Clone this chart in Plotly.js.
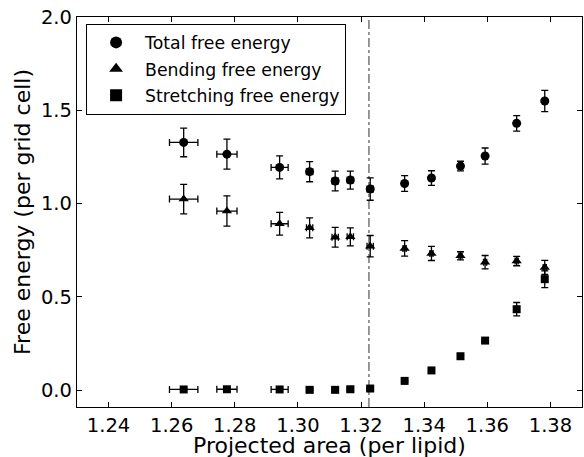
<!DOCTYPE html>
<html><head><meta charset="utf-8">
<script src="https://cdn.plot.ly/plotly-3.0.1.min.js"></script>
<style>body{margin:0;padding:0;background:#fff}#chart{width:584px;height:457px}</style>
</head><body><div id="chart"></div>
<script>
const area = [1.2638, 1.2775, 1.2942, 1.3037, 1.3118, 1.3166, 1.3229, 1.3338, 1.3423, 1.3515, 1.3593, 1.3693, 1.3782];
const areaErr = [0.0045, 0.0032, 0.0027, 0.001, 0.001, 0.001, 0.001, 0.0005, 0.0005, 0.0005, 0.0005, 0.0005, 0.0005];
const totalFE = [1.328, 1.265, 1.194, 1.171, 1.121, 1.126, 1.078, 1.108, 1.137, 1.201, 1.255, 1.430, 1.550];
const totalErr = [0.077, 0.080, 0.062, 0.054, 0.053, 0.048, 0.060, 0.042, 0.039, 0.026, 0.043, 0.042, 0.057];
const bendFE = [1.024, 0.960, 0.892, 0.870, 0.820, 0.822, 0.772, 0.760, 0.733, 0.720, 0.686, 0.692, 0.658];
const bendErr = [0.079, 0.081, 0.061, 0.054, 0.053, 0.048, 0.057, 0.042, 0.038, 0.022, 0.036, 0.025, 0.038];
const stretchFE = [0.004, 0.005, 0.004, 0.002, 0.002, 0.005, 0.009, 0.050, 0.106, 0.182, 0.266, 0.434, 0.595];
const stretchErr = [0.004, 0.004, 0.004, 0.004, 0.004, 0.004, 0.004, 0.004, 0.005, 0.006, 0.008, 0.036, 0.045];
const vlineX = 1.3225;
const seriesNames = ['Total free energy', 'Bending free energy', 'Stretching free energy'];
const xTitle = 'Projected area (per lipid)';
const yTitle = 'Free energy (per grid cell)';

function tr(y, ey, name, sym, g) {
  return {
    type: 'scatter', mode: 'markers', x: area, y: y, name: name, legendgroup: g,
    marker: {symbol: sym, size: sym === 'square' ? 8 : 9, color: '#000'},
    error_y: {type: 'data', array: ey, visible: true, color: '#000', thickness: 1.3, width: 3.5},
    error_x: {type: 'data', array: areaErr, visible: true, color: '#000', thickness: 1.3, width: 3.5}
  };
}
const data = [
  tr(totalFE, totalErr, seriesNames[0], 'circle', 'a'),
  tr(bendFE, bendErr, seriesNames[1], 'triangle-up', 'b'),
  tr(stretchFE, stretchErr, seriesNames[2], 'square', 'c')
];
const FF = 'DejaVu Sans, sans-serif';
const layout = {
  width: 584, height: 457,
  margin: {l: 77, r: 2, t: 17, b: 50},
  paper_bgcolor: '#fff', plot_bgcolor: '#fff',
  font: {family: FF, color: '#000'},
  showlegend: true,
  legend: {x: 0.018, y: 0.983, xanchor: 'left', yanchor: 'top', bgcolor: '#fff',
    bordercolor: '#000', borderwidth: 1, font: {family: FF, size: 17.3, color: '#000'},
    traceorder: 'grouped', tracegroupgap: 1, itemsizing: 'constant', itemwidth: 48},
  xaxis: {range: [1.23, 1.39], tickvals: [1.24, 1.26, 1.28, 1.30, 1.32, 1.34, 1.36, 1.38],
    tickformat: '.2f', ticks: 'inside', ticklen: 5, tickcolor: '#000', mirror: 'allticks',
    showline: true, linecolor: '#000', linewidth: 1.2, showgrid: false, zeroline: false,
    tickfont: {size: 19.5, family: FF, color: '#000'}},
  yaxis: {range: [-0.09, 2.0], tickvals: [0, 0.5, 1.0, 1.5, 2.0], tickformat: '.1f',
    ticks: 'inside', ticklen: 5, tickcolor: '#000', mirror: 'allticks',
    showline: true, linecolor: '#000', linewidth: 1.2, showgrid: false, zeroline: false,
    tickfont: {size: 19.5, family: FF, color: '#000'},
    title: {text: yTitle, font: {size: 22, family: FF, color: '#000'}, standoff: 4}},
  annotations: [{text: xTitle, xref: 'paper', yref: 'paper', x: 0.5, y: 0, xanchor: 'center', yanchor: 'top',
    yshift: -24, showarrow: false, font: {size: 22, family: FF, color: '#000'}}],
  shapes: [{type: 'line', xref: 'x', yref: 'paper', x0: vlineX, x1: vlineX, y0: 0, y1: 1,
    line: {color: '#555', width: 1.2, dash: 'dashdot'}, layer: 'below'}]
};
Plotly.newPlot('chart', data, layout, {displayModeBar: false, staticPlot: true});
</script></body></html>
